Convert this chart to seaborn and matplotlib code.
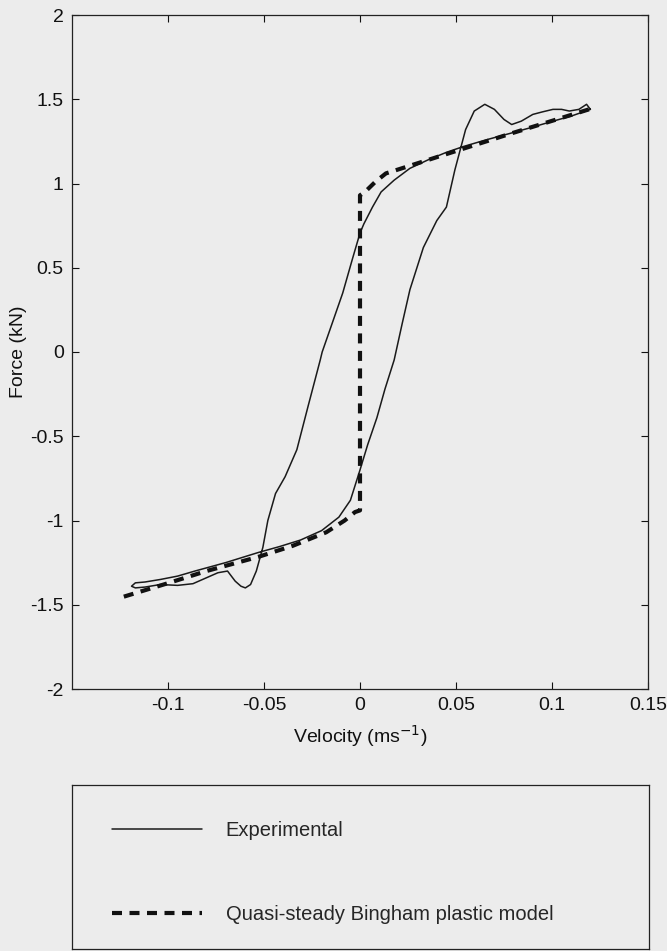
import numpy as np
import pandas as pd
import matplotlib
matplotlib.use("Agg")
import matplotlib.pyplot as plt
import seaborn as sns

# experimental loop (velocity in m/s, force in kN)
exp_v = [0.120, 0.110, 0.1005, 0.090, 0.079, 0.066, 0.054, 0.045, 0.0354, 0.026,
         0.0178, 0.011, 0.0065, 0.002, 0.0, -0.004, -0.009, -0.0145, -0.0197, -0.0207,
         -0.027, -0.0329, -0.039, -0.044, -0.048, -0.0506, -0.054, -0.057, -0.0597, -0.062,
         -0.065, -0.069, -0.074, -0.080, -0.087, -0.095, -0.104, -0.112, -0.117, -0.119,
         -0.117, -0.112, -0.104, -0.095, -0.086, -0.070, -0.053, -0.042, -0.031, -0.020,
         -0.011, -0.005, 0.0, 0.004, 0.0088, 0.013, 0.0178, 0.022, 0.026, 0.033,
         0.040, 0.045, 0.0494, 0.055, 0.0595, 0.065, 0.070, 0.075, 0.079, 0.084,
         0.090, 0.095, 0.1005, 0.105, 0.109, 0.114, 0.118, 0.120]
exp_f = [1.44, 1.40, 1.37, 1.335, 1.30, 1.26, 1.22, 1.185, 1.14, 1.09,
         1.02, 0.95, 0.86, 0.76, 0.706, 0.55, 0.35, 0.17, 0.0, -0.047,
         -0.32, -0.58, -0.74, -0.84, -1.0, -1.16, -1.30, -1.38, -1.40, -1.39,
         -1.36, -1.30, -1.31, -1.34, -1.375, -1.385, -1.38, -1.395, -1.40, -1.39,
         -1.37, -1.365, -1.35, -1.33, -1.30, -1.25, -1.19, -1.155, -1.116, -1.06,
         -0.98, -0.88, -0.70, -0.55, -0.39, -0.22, -0.047, 0.17, 0.37, 0.62,
         0.78, 0.86, 1.08, 1.32, 1.43, 1.47, 1.44, 1.38, 1.35, 1.37,
         1.41, 1.425, 1.44, 1.44, 1.43, 1.44, 1.47, 1.44]

# quasi-steady Bingham plastic model
bing_v = [-0.123, -0.100, -0.080, -0.053, -0.035, -0.0176, -0.008, -0.0026, 0.0,
          0.0, 0.0026, 0.008, 0.0135, 0.0355, 0.0575, 0.0796, 0.1015, 0.1215]
bing_f = [-1.452, -1.372, -1.30, -1.216, -1.15, -1.07, -1.0, -0.95, -0.94,
          0.93, 0.95, 1.01, 1.06, 1.14, 1.22, 1.30, 1.377, 1.448]

x_ticks = [-0.1, -0.05, 0, 0.05, 0.1, 0.15]
x_labels = ["-0.1", "-0.05", "0", "0.05", "0.1", "0.15"]
y_ticks = [-2, -1.5, -1, -0.5, 0, 0.5, 1, 1.5, 2]
y_labels = ["-2", "-1.5", "-1", "-0.5", "0", "0.5", "1", "1.5", "2"]

df_exp = pd.DataFrame({"v": exp_v, "f": exp_f})
df_bing = pd.DataFrame({"v": bing_v, "f": bing_f})

sns.set_theme(style="ticks")
plt.rcParams["font.family"] = ["Liberation Sans", "DejaVu Sans"]
bg = "#ececec"
fs = 14

fig = plt.figure(figsize=(6.67, 9.51), dpi=100, facecolor=bg)
ax = fig.add_axes([72 / 667, 1 - 689 / 951, 576 / 667, 674 / 951], facecolor=bg)

sns.lineplot(data=df_exp, x="v", y="f", sort=False, estimator=None, ax=ax,
             color="#1a1a1a", linewidth=1.1, label="Experimental")
sns.lineplot(data=df_bing, x="v", y="f", sort=False, estimator=None, ax=ax,
             color="#111111", linewidth=3.0,
             label="Quasi-steady Bingham plastic model")
ax.lines[1].set_dashes((2.4, 1.8))

ax.set_xlim(-0.15, 0.15)
ax.set_ylim(-2, 2)
ax.set_xticks(x_ticks)
ax.set_xticklabels(x_labels)
ax.set_yticks(y_ticks)
ax.set_yticklabels(y_labels)
ax.tick_params(direction="in", length=5, width=0.8, top=True, right=True,
               labelsize=fs, colors="#111111", pad=6)
for s in ax.spines.values():
    s.set_visible(True)
    s.set_linewidth(0.9)
    s.set_color("#222222")
ax.set_xlabel("Velocity (ms$^{-1}$)", fontsize=fs, color="#111111", labelpad=6)
ax.set_ylabel("Force (kN)", fontsize=fs, color="#111111", labelpad=2)

handles, labels = ax.get_legend_handles_labels()
ax.get_legend().remove()

# legend box below the plot
lax = fig.add_axes([72 / 667, 2 / 951, 577 / 667, (949 - 785) / 951], facecolor=bg)
lax.set_xticks([])
lax.set_yticks([])
for s in lax.spines.values():
    s.set_linewidth(0.9)
    s.set_color("#222222")
lax.legend(handles, labels, loc="upper left", bbox_to_anchor=(0.055, 0.83),
           frameon=False, fontsize=14.5, handlelength=4.5, handletextpad=1.15,
           labelspacing=3.25, borderaxespad=0)

fig.savefig("out.png", dpi=100, facecolor=bg)
